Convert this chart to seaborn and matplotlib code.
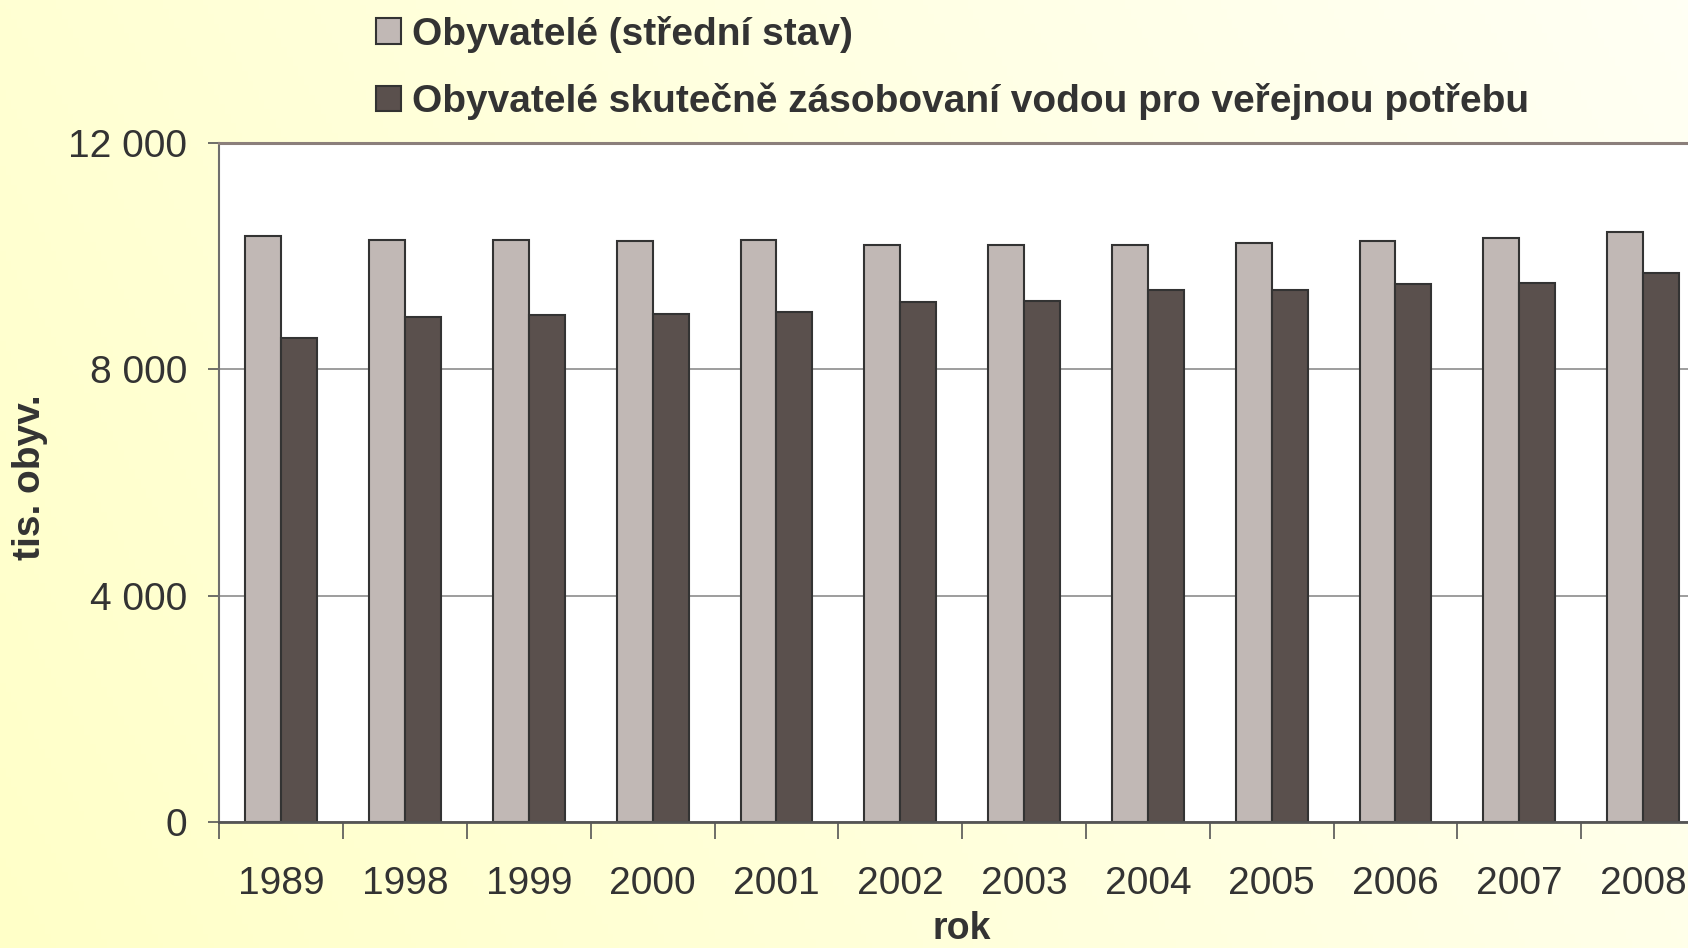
import numpy as np
import pandas as pd
import matplotlib
matplotlib.use("Agg")
import matplotlib.pyplot as plt
from matplotlib.colors import LinearSegmentedColormap
import seaborn as sns

# data (thousand inhabitants)
years = ["1989", "1998", "1999", "2000", "2001", "2002",
         "2003", "2004", "2005", "2006", "2007", "2008"]
obyvatele = [10362, 10295, 10283, 10273, 10287, 10201,
             10202, 10207, 10234, 10267, 10323, 10430]
zasobovani = [8560, 8920, 8960, 8980, 9010, 9190,
              9210, 9410, 9410, 9510, 9530, 9700]
series = ["Obyvatelé (střední stav)",
          "Obyvatelé skutečně zásobovaní vodou pro veřejnou potřebu"]
yticks = [0, 4000, 8000, 12000]

df = pd.DataFrame({
    "rok": years * 2,
    "hodnota": obyvatele + zasobovani,
    "serie": [series[0]] * len(years) + [series[1]] * len(years),
})

sns.set_style("white")
plt.rcParams["font.family"] = ["Liberation Sans", "DejaVu Sans"]
txt = "#333333"

fig = plt.figure(figsize=(16.88, 9.48), dpi=100)

# yellowish gradient background
bg = fig.add_axes([0, 0, 1, 1], zorder=-1)
gx, gy = np.meshgrid(np.linspace(0, 1, 300), np.linspace(0, 1, 200))
cmap = LinearSegmentedColormap.from_list("bg", ["#FFFFC8", "#FFFFF4"])
bg.imshow(0.75 * gx + 0.25 * gy, cmap=cmap, aspect="auto", origin="lower",
          extent=[0, 1, 0, 1])
bg.axis("off")

ax = fig.add_axes([0.130, 0.133, 0.880, 0.716])
ax.set_facecolor("white")
sns.barplot(data=df, x="rok", y="hodnota", hue="serie",
            palette=["#C1B8B5", "#5A504D"], saturation=1, width=0.58,
            edgecolor="#333333", linewidth=1.5, ax=ax)

handles, labels = ax.get_legend_handles_labels()
ax.get_legend().remove()
fig.legend(handles, labels, loc="upper left", bbox_to_anchor=(0.2115, 1.004),
           frameon=False, prop={"size": 28, "weight": "bold"},
           labelcolor=txt, handlelength=0.62, handleheight=0.62,
           handletextpad=0.3, labelspacing=0.78, borderpad=0)

ax.set_ylim(0, 12000)
ax.set_xlim(-0.5, len(years) - 0.5)
ax.set_yticks(yticks)
ax.set_yticklabels([f"{v:,}".replace(",", " ") for v in yticks])
ax.yaxis.grid(True, color="#8C8C8C", linewidth=1.2)
ax.set_axisbelow(True)

ax.set_xticks(np.arange(-0.5, len(years), 1), minor=True)
ax.tick_params(axis="x", which="minor", bottom=True, length=12,
               width=1.2, color="#555555")
ax.tick_params(axis="x", which="major", bottom=True, length=0, pad=32,
               labelsize=28, labelcolor=txt)
ax.tick_params(axis="y", left=True, length=8, width=1.2, color="#555555",
               pad=15, labelsize=28, labelcolor=txt)

ax.spines["right"].set_visible(False)
ax.spines["top"].set_color("#8B7F7B")
ax.spines["top"].set_linewidth(2.2)
ax.spines["left"].set_color("#6E6E6E")
ax.spines["left"].set_linewidth(1.5)
ax.spines["bottom"].set_color("#555555")
ax.spines["bottom"].set_linewidth(2)

ax.set_xlabel("")
ax.set_ylabel("")
fig.text(0.5695, 0.001, "rok", ha="center", va="bottom", fontsize=27,
         fontweight="bold", color=txt)
fig.text(0.018, 0.497, "tis. obyv.", ha="center", va="center", rotation=90,
         fontsize=28, fontweight="bold", color=txt)

fig.savefig("out.png", dpi=100)
